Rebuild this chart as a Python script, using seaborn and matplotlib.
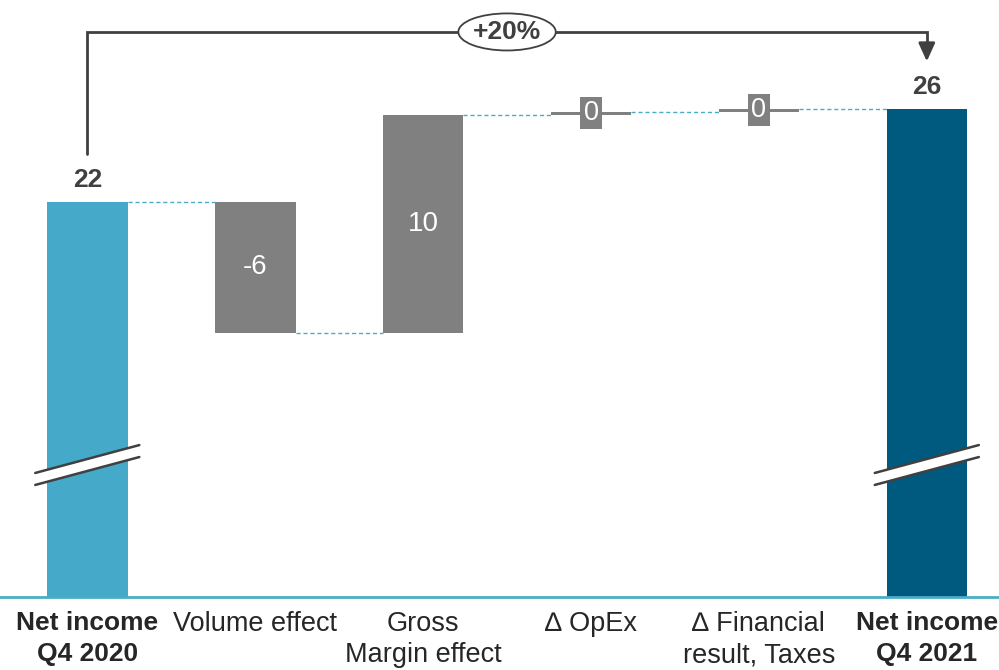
import matplotlib
matplotlib.use("Agg")
import matplotlib.pyplot as plt
import seaborn as sns
from matplotlib.patches import Ellipse, Polygon

categories = ["Net income\nQ4 2020", "Volume effect", "Gross\nMargin effect",
              "\u2206 OpEx", "\u2206 Financial\nresult, Taxes", "Net income\nQ4 2021"]
values = [22.0, -6.0, 10.0, 0.15, 0.12, 26.27]
is_total = [True, False, False, False, False, True]
growth_label = "+20%"

GRAY = "#808080"
START = "#45A9C9"
END = "#005A80"
DARK = "#404040"
LINE = "#4BACC6"

sns.set_style("white")
plt.rcParams["font.family"] = ["Liberation Sans", "DejaVu Sans"]

# waterfall geometry
bottoms, heights, levels = [], [], []
run = 0.0
for v, tot in zip(values, is_total):
    if tot:
        bottoms.append(0.0)
        heights.append(v)
        run = v
    else:
        bottoms.append(min(run, run + v))
        heights.append(abs(v))
        run += v
    levels.append(run)

fig = plt.figure(figsize=(9.99, 6.7), dpi=100)
ax = fig.add_axes([0, 73 / 670, 1, 597 / 670])
bw = 0.48
sns.barplot(x=categories, y=heights, bottom=bottoms, color=GRAY, saturation=1,
            width=bw, errorbar=None, ax=ax, linewidth=0)
ax.patches[0].set_facecolor(START)
ax.patches[-1].set_facecolor(END)

ymin = 3.88
ax.set_ylim(ymin, ymin + 597 / 21.8)
ax.set_xlim(-0.52, 5.43)

# connectors
for i in range(len(values) - 1):
    ax.plot([i + bw / 2, i + 1 - bw / 2], [levels[i], levels[i]], color=LINE,
            lw=1, ls=(0, (3, 2)), zorder=1)

# value labels
for i, (v, tot) in enumerate(zip(values, is_total)):
    txt = f"{v:.0f}"
    if tot:
        ax.text(i, v + 0.45, txt, ha="center", va="bottom", fontsize=19,
                fontweight="bold", color=DARK)
    elif abs(v) < 1:
        ax.text(i, bottoms[i] + heights[i] / 2, txt, ha="center", va="center",
                fontsize=19.5, color="white",
                bbox=dict(boxstyle="square,pad=0.12", fc=GRAY, ec="none"))
    else:
        ax.text(i, bottoms[i] + heights[i] / 2, f"{v:.0f}", ha="center",
                va="center", fontsize=20, color="white")

# axis break marks on totals
for i in [0, 5]:
    xl, xr = i - 0.31, i + 0.31
    lo = (9.02, 10.30)
    hi = (9.57, 10.85)
    ax.add_patch(Polygon([[xl, lo[0]], [xr, lo[1]], [xr, hi[1]], [xl, hi[0]]],
                         closed=True, fc="white", ec="none", zorder=3))
    ax.plot([xl, xr], [lo[0], lo[1]], color=DARK, lw=1.8, zorder=4)
    ax.plot([xl, xr], [hi[0], hi[1]], color=DARK, lw=1.8, zorder=4)

# growth bracket
top = 29.8
ax.plot([0, 0, 5, 5], [24.2, top, top, 29.2], color=DARK, lw=2,
        solid_joinstyle="miter", zorder=4)
ax.annotate("", xy=(5, 28.45), xytext=(5, 29.3),
            arrowprops=dict(arrowstyle="-|>,head_length=1.1,head_width=0.5",
                            color=DARK, lw=2, shrinkA=0, shrinkB=0))
ax.add_patch(Ellipse((2.5, top), 0.58, 1.70, fc="white", ec=DARK, lw=1.3, zorder=5))
ax.text(2.5, top, growth_label, ha="center", va="center", fontsize=19,
        fontweight="bold", color=DARK, zorder=6)

# axes styling
for s in ["top", "left", "right"]:
    ax.spines[s].set_visible(False)
ax.spines["bottom"].set_color(LINE)
ax.spines["bottom"].set_linewidth(2)
ax.set_yticks([])
ax.set_xlabel("")
ax.set_ylabel("")
ax.set_xticks(range(len(categories)))
ax.set_xticklabels(categories, fontsize=19.5, color="#262626", linespacing=1.28)
ax.tick_params(axis="x", length=0, pad=10)
for i, lab in enumerate(ax.get_xticklabels()):
    if is_total[i]:
        lab.set_fontweight("bold")
        lab.set_fontsize(19)
        lab.set_linespacing(1.36)

fig.savefig("out.png", dpi=100)
